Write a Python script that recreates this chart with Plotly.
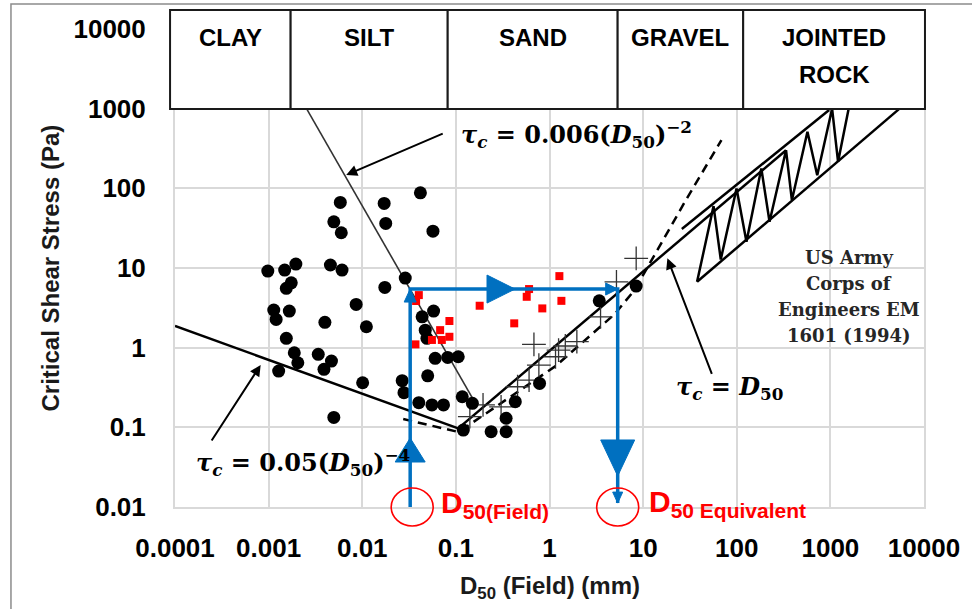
import plotly.graph_objects as go

# ---------------- measured soils: D50 (mm) and critical shear stress (Pa) ----------------
field_d50 = [0.00583, 0.01714, 0.0418, 0.00497, 0.00597, 0.01782, 0.0569, 0.00098, 0.001484,
             0.001954, 0.001745, 0.001545, 0.00457, 0.00608, 0.0288, 0.01742, 0.001135, 0.001203,
             0.001663, 0.00861, 0.00399, 0.01107, 0.0578, 0.0436, 0.0471, 0.0491, 0.001545, 0.00188,
             0.00205, 0.00339, 0.00469, 0.0039, 0.00128, 0.0101, 0.00497, 0.0267, 0.0279, 0.0601,
             0.0818, 0.106, 0.05, 0.0402, 0.0555, 0.0738, 0.117, 0.150, 0.12, 0.238, 0.344, 0.344,
             0.431, 0.783, 3.40, 8.43]
field_tau = [66.5, 64.7, 87.9, 38.0, 27.7, 36.3, 29.0, 9.14, 9.41, 11.2, 6.52, 5.55, 10.9, 9.41,
             7.47, 5.71, 2.96, 2.26, 2.88, 3.49, 2.08, 1.83, 2.88, 2.44, 1.66, 1.31, 1.31, 0.863,
             0.647, 0.824, 0.679, 0.535, 0.508, 0.363, 0.133, 0.385, 0.272, 0.735, 0.755, 0.769,
             0.443, 0.204, 0.191, 0.191, 0.242, 0.2, 0.0925, 0.0881, 0.0881, 0.13, 0.21, 0.356,
             3.87, 5.93]

lab_d50 = [0.0402, 0.0376, 0.037, 0.0555, 0.0679, 0.0853, 0.0853, 0.0708, 0.1795, 0.42, 0.571,
           0.605, 0.838, 1.275, 1.34]
lab_tau = [4.57, 3.85, 1.10, 1.25, 1.66, 2.16, 1.37, 1.25, 3.36, 2.02, 4.35, 5.44, 3.11, 7.91, 3.87]

coarse_d50 = [8.43, 5.19, 3.51, 0.682, 1.96, 1.475, 1.25, 1.16, 0.77, 0.605, 0.456, 0.304, 0.195, 0.141]
coarse_tau = [13.2, 6.71, 2.44, 1.10, 1.19, 1.05, 0.933, 0.769, 0.605, 0.392, 0.323, 0.181, 0.191, 0.136]

# ---------------- design lines ----------------
clay_line_d50 = [0.0001, 0.106]
clay_line_tau = [1.87, 0.097]
silt_line_d50 = [0.00254, 0.166]
silt_line_tau = [1000, 0.19]
grain_line_d50 = [0.106, 336]
grain_line_tau = [0.097, 301]
dashed_d50 = [0.0274, 0.107, 1.16, 4.97, 8.09, 28.6, 68.6]
dashed_tau = [0.127, 0.0873, 0.587, 2.64, 5.28, 71.1, 403]

# jointed rock band (USACE EM 1601)
rock_upper_d50 = [25.9, 970]
rock_upper_tau = [30.8, 960]
rock_lower_d50 = [37.7, 5480]
rock_lower_tau = [6.71, 1000]
rock_zigzag_d50 = [37.7, 56.5, 67.5, 99.5, 127, 183, 224, 336, 388, 569, 724, 1043, 1208, 1567]
rock_zigzag_tau = [6.71, 59.8, 12.8, 99.7, 21.3, 178, 38, 301, 71, 512, 146, 1000, 215, 1000]

# ---------------- worked example ----------------
d50_field = 0.0325
tau_field = 5.44
d50_equiv = 5.35
tau_floor = 0.01
tau_tip = 0.0112

# ---------------- labels ----------------
soil_classes = ["CLAY", "SILT", "SAND", "GRAVEL", "JOINTED", "ROCK"]
source_lines = ["US Army", "Corps of", "Engineers EM", "1601 (1994)"]
x_ticks = [0.0001, 0.001, 0.01, 0.1, 1, 10, 100, 1000, 10000]
x_tick_text = ["0.0001", "0.001", "0.01", "0.1", "1", "10", "100", "1000", "10000"]
y_ticks = [0.01, 0.1, 1, 10, 100, 1000, 10000]
y_tick_text = ["0.01", "0.1", "1", "10", "100", "1000", "10000"]

BLUE = "#0070C0"
RED = "#FF0000"
SANS = "Liberation Sans, Arial, sans-serif"
SERIF = "DejaVu Serif, serif"

fig = go.Figure()

def line(x, y, width=2.5, color="black", dash="solid"):
    fig.add_trace(go.Scatter(x=x, y=y, mode="lines", hoverinfo="skip",
                             line=dict(color=color, width=width, dash=dash)))

line(clay_line_d50, clay_line_tau)
line(silt_line_d50, silt_line_tau, width=1.6, color="#333333")
line(grain_line_d50, grain_line_tau)
line(dashed_d50, dashed_tau, dash="9px,6px")
line(rock_upper_d50, rock_upper_tau)
line(rock_lower_d50, rock_lower_tau)
line(rock_zigzag_d50, rock_zigzag_tau)

fig.add_trace(go.Scatter(x=coarse_d50, y=coarse_tau, mode="markers", hoverinfo="skip",
                         marker=dict(symbol="cross-thin", size=17, color="#333333",
                                     line=dict(color="#333333", width=1.3))))
fig.add_trace(go.Scatter(x=field_d50, y=field_tau, mode="markers", hoverinfo="skip",
                         marker=dict(symbol="circle", size=13, color="black")))
fig.add_trace(go.Scatter(x=lab_d50, y=lab_tau, mode="markers", hoverinfo="skip",
                         marker=dict(symbol="square", size=8, color=RED)))

# path from field D50 up to the threshold stress and across to the equivalent D50
fig.add_trace(go.Scatter(x=[d50_field, d50_field, d50_equiv, d50_equiv],
                         y=[tau_floor, tau_field, tau_field, tau_tip],
                         mode="lines", hoverinfo="skip", line=dict(color=BLUE, width=3.5)))

shapes = []

def head(x, y, path, color=BLUE, yref="y"):
    shapes.append(dict(type="path", xref="x", yref=yref, xsizemode="pixel", ysizemode="pixel",
                       xanchor=x, yanchor=y, path=path, fillcolor=color,
                       line=dict(color=color, width=1), layer="above"))

# small heads at the path ends
head(d50_field, tau_field, "M-6,-13 L6,-13 L0,0 Z")
head(d50_equiv, tau_field, "M-12,-6 L-12,6 L0,0 Z")
head(d50_equiv, tau_tip, "M-5,11 L5,11 L0,0 Z")
# large direction heads along the path
head(d50_field, 0.0367, "M-15,0 L15,0 L0,24 Z")
head(0.215, tau_field, "M0,-14 L0,14 L28,0 Z")
head(d50_equiv, 0.0694, "M-17,0 L17,0 L0,-36 Z")

def ellipse_path(rx, ry, cx=0.0):
    k = 0.5523
    return ("M{a},0 C{a},{b} {c},{ry} {cx},{ry} C{d},{ry} {e},{b} {e},0 "
            "C{e},{nb} {d},{nry} {cx},{nry} C{c},{nry} {a},{nb} {a},0 Z").format(
        a=cx + rx, b=k * ry, c=cx + k * rx, ry=ry, cx=cx, d=cx - k * rx, e=cx - rx,
        nb=-k * ry, nry=-ry)

# circles marking the two D50 values on the axis
for xc, dx in ((d50_field, 2), (d50_equiv, 0)):
    shapes.append(dict(type="path", xref="x", yref="paper", xsizemode="pixel",
                       ysizemode="pixel", xanchor=xc, yanchor=0, path=ellipse_path(21, 19, dx),
                       line=dict(color=RED, width=1.6), layer="above"))

# soil class header boxes
edges = [-0.0066, 0.1544, 0.3641, 0.591, 0.7586, 1.0013]
box_top, box_bottom = 1.0397, 0.8326
for i in range(5):
    shapes.append(dict(type="rect", xref="paper", yref="paper", x0=edges[i], x1=edges[i + 1],
                       y0=box_bottom, y1=box_top, fillcolor="white",
                       line=dict(color="#1a1a1a", width=2), layer="above"))

# outer chart frame
shapes.append(dict(type="rect", xref="paper", yref="paper", x0=-0.219, x1=1.2, y0=-0.3,
                   y1=1.0523, line=dict(color="#8c8c8c", width=1.5), layer="below"))

annotations = []

def text(t, x, y, size, family=SANS, color="black", xanchor="center", yanchor="middle", **kw):
    annotations.append(dict(text=t, xref="paper", yref="paper", x=x, y=y, xanchor=xanchor,
                            yanchor=yanchor, showarrow=False,
                            font=dict(family=family, size=size, color=color), **kw))

centers = [(edges[i] + edges[i + 1]) / 2 for i in range(5)]
label_y = [0.9812, 0.9812, 0.9812, 0.9812, 0.9812, 0.904]
for i, name in enumerate(soil_classes):
    text("<b>%s</b>" % name, centers[min(i, 4)], label_y[i], 24)

text("<b><i>τ<sub>c</sub></i> = 0.006(<i>D</i><sub>50</sub>)<sup>−2</sup></b>", 0.3786, 0.78, 24,
     family=SERIF, xanchor="left")
text("<b><i>τ<sub>c</sub></i> = 0.05(<i>D</i><sub>50</sub>)<sup>−4</sup></b>", 0.0251, 0.093, 24,
     family=SERIF, xanchor="left")
text("<b><i>τ<sub>c</sub></i> = <i>D</i><sub>50</sub></b>", 0.6662, 0.25, 24,
     family=SERIF, xanchor="left")

def arrow(x, y, ax, ay):
    annotations.append(dict(text="", xref="paper", yref="paper", x=x, y=y, ax=ax, ay=ay,
                            axref="pixel", ayref="pixel", showarrow=True, arrowhead=2,
                            arrowsize=1.1, arrowwidth=2, arrowcolor="black"))

arrow(0.2286, 0.6946, 98, -42)
arrow(0.1144, 0.2971, -50, 77)
arrow(0.6574, 0.5203, 45, 117)

# source note, one line per annotation for wider leading
for j, s in enumerate(source_lines):
    text("<b>%s</b>" % s, 0.8993, 0.523 - 0.0544 * j, 18, family=SERIF, color="#262626")

text("<b>D<sub>50(Field)</sub></b>", 0.3522, 0.006, 30, color=RED, xanchor="left")
text("<b>D<sub>50 Equivalent</sub></b>", 0.6306, 0.008, 30, color=RED, xanchor="left")

# axis titles
text("<b>D<sub>50</sub> (Field) (mm)</b>", 0.5, -0.168, 24, color="#1a1a1a")
text("<b>Critical Shear Stress (Pa)</b>", -0.1675, 0.5, 24, color="#1a1a1a", textangle=-90)

grid = "#d9d9d9"
fig.update_layout(
    width=972, height=609,
    margin=dict(l=175, r=39, t=29, b=102),
    paper_bgcolor="white", plot_bgcolor="white",
    showlegend=False,
    shapes=shapes, annotations=annotations,
    xaxis=dict(type="log", range=[-4, 4], tickvals=x_ticks, ticktext=x_tick_text,
               showgrid=True, gridcolor=grid, gridwidth=2, zeroline=False,
               showline=True, linecolor=grid, linewidth=2, mirror=True,
               ticks="outside", ticklen=17, tickcolor="rgba(0,0,0,0)",
               tickfont=dict(family=SANS, size=26, color="black", weight="bold")),
    yaxis=dict(type="log", range=[-2, 4], tickvals=y_ticks, ticktext=y_tick_text,
               showgrid=True, gridcolor=grid, gridwidth=2, zeroline=False,
               showline=True, linecolor=grid, linewidth=2, mirror=True,
               ticks="outside", ticklen=22, tickcolor="rgba(0,0,0,0)",
               tickfont=dict(family=SANS, size=26, color="black", weight="bold")),
)

fig.write_html("out.html")
